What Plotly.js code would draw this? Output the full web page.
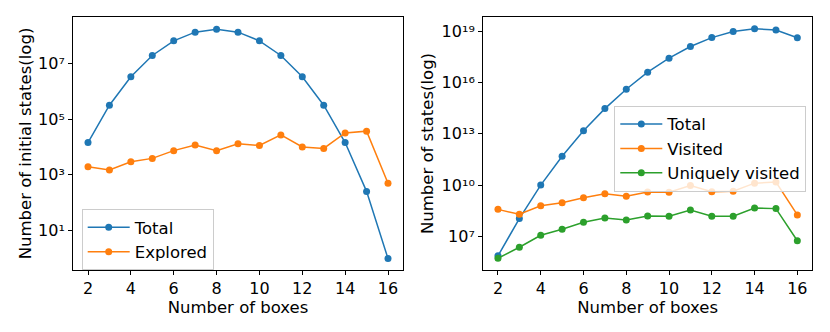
<!DOCTYPE html>
<html>
<head>
<meta charset="utf-8">
<script src="https://cdn.plot.ly/plotly-3.0.1.min.js"></script>
<style>html,body{margin:0;padding:0;background:#fff;}#chart{width:830px;height:332px;}</style>
</head>
<body>
<div id="chart"></div>
<script>
// Shared x values
const boxes = [2,3,4,5,6,7,8,9,10,11,12,13,14,15,16];

// Left panel: number of initial states
const initialTotal = [14400,313600,3312400,19079424,64128064,130873600,165636900,130873600,64128064,19079424,3312400,313600,14400,256,1];
const initialExplored = [1960,1500,2950,3900,7400,11700,7400,13000,11300,27000,10000,8900,32000,37000,500];

// Right panel: number of states
const statesTotal = [7.2e5,1.1e8,1.0e10,4.9e11,1.5e13,3.0e14,4.1e15,4.1e16,2.7e17,1.3e18,4.3e18,9.8e18,1.4e19,1.2e19,4.2e18];
const statesVisited = [3.8e8,1.95e8,6.2e8,9.3e8,1.8e9,3.1e9,2.2e9,4.0e9,3.8e9,9.4e9,4.1e9,4.4e9,1.3e10,1.5e10,1.8e8];
const statesUnique = [5.2e5,2.3e6,1.15e7,2.6e7,6.6e7,1.2e8,9.0e7,1.54e8,1.5e8,3.5e8,1.5e8,1.5e8,4.6e8,4.2e8,5.5e6];

// Tick labels
const xTicks = [2,4,6,8,10,12,14,16];
const leftYTickVals = [1e1,1e3,1e5,1e7];
const leftYTickText = ['10\u00B9','10\u00B3','10\u2075','10\u2077'];
const rightYTickVals = [1e7,1e10,1e13,1e16,1e19];
const rightYTickText = ['10\u2077','10\u00B9\u2070','10\u00B9\u00B3','10\u00B9\u2076','10\u00B9\u2079'];

const BLUE = '#1f77b4', ORANGE = '#ff7f0e', GREEN = '#2ca02c';
const FONT = 'DejaVu Sans, sans-serif';
const TFONT = {family: FONT, size: 16.5, color: '#000'};

function tr(y, name, color, xa, ya, legend) {
  return {
    x: boxes, y: y, name: name, type: 'scatter', mode: 'lines+markers',
    xaxis: xa, yaxis: ya, legend: legend,
    line: {color: color, width: 1.5},
    marker: {color: color, size: 7}
  };
}

const data = [
  tr(initialTotal, 'Total', BLUE, 'x', 'y', 'legend'),
  tr(initialExplored, 'Explored', ORANGE, 'x', 'y', 'legend'),
  tr(statesTotal, 'Total', BLUE, 'x2', 'y2', 'legend2'),
  tr(statesVisited, 'Visited', ORANGE, 'x2', 'y2', 'legend2'),
  tr(statesUnique, 'Uniquely visited', GREEN, 'x2', 'y2', 'legend2')
];

const axCommon = {
  showgrid: false, zeroline: false,
  showline: true, mirror: true, linecolor: '#000', linewidth: 1,
  ticks: 'outside', ticklen: 4, tickwidth: 1, tickcolor: '#000',
  tickfont: {family: FONT, size: 16, color: '#000'}
};

const yTop = 1 - 17/332, yBot = 1 - 270/332;

const layout = {
  width: 830, height: 332,
  margin: {l: 0, r: 0, t: 0, b: 0},
  paper_bgcolor: '#fff', plot_bgcolor: '#fff',
  font: {family: FONT, size: 16, color: '#000'},
  xaxis: Object.assign({}, axCommon, {
    domain: [73/830, 403/830], anchor: 'y', range: [1.3, 16.7],
    tickvals: xTicks, automargin: true,
    title: {text: 'Number of boxes', font: TFONT, standoff: 2}
  }),
  yaxis: Object.assign({}, axCommon, {
    domain: [yBot, yTop], anchor: 'x', type: 'log', range: [-0.41, 8.66],
    tickvals: leftYTickVals, ticktext: leftYTickText, automargin: true,
    title: {text: 'Number of initial states(log)', font: TFONT, standoff: 2}
  }),
  xaxis2: Object.assign({}, axCommon, {
    domain: [483/830, 812.3/830], anchor: 'y2', range: [1.3, 16.7],
    tickvals: xTicks, automargin: true,
    title: {text: 'Number of boxes', font: TFONT, standoff: 2}
  }),
  yaxis2: Object.assign({}, axCommon, {
    domain: [yBot, yTop], anchor: 'x2', type: 'log', range: [5.03, 19.84],
    tickvals: rightYTickVals, ticktext: rightYTickText, automargin: true,
    title: {text: 'Number of states(log)', font: TFONT, standoff: 3}
  }),
  legend: {
    x: 81.7/830, y: 1 - 209/332, xanchor: 'left', yanchor: 'top',
    bgcolor: 'rgba(255,255,255,0.8)', bordercolor: '#cccccc', borderwidth: 1,
    font: TFONT, itemwidth: 42
  },
  legend2: {
    x: 614.3/830, y: 1 - 105.7/332, xanchor: 'left', yanchor: 'top',
    bgcolor: 'rgba(255,255,255,0.8)', bordercolor: '#cccccc', borderwidth: 1,
    font: TFONT, itemwidth: 42
  },
  showlegend: true
};

Plotly.newPlot('chart', data, layout, {staticPlot: true, displayModeBar: false});
</script>
</body>
</html>
